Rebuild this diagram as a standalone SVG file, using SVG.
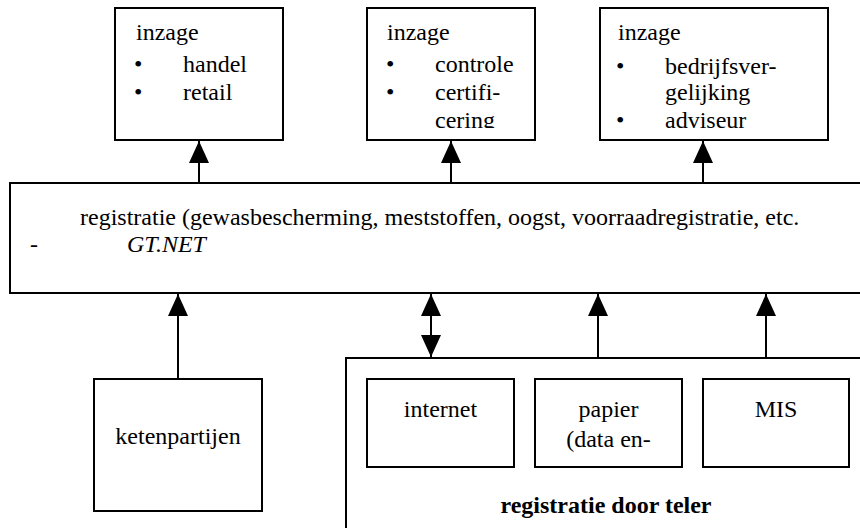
<svg xmlns="http://www.w3.org/2000/svg" width="860" height="528" viewBox="0 0 860 528">
<style>
text{font-family:"Liberation Serif","Times New Roman",serif;font-size:24px;fill:#000}
.box{fill:#fff;stroke:#000;stroke-width:2}
.ln{stroke:#000;stroke-width:2;fill:none}
.it{font-style:italic}
.b{font-weight:bold}
.c{text-anchor:middle}
</style>
<defs>
<marker id="up" markerUnits="userSpaceOnUse" markerWidth="20" markerHeight="22" viewBox="0 0 20 22" refX="10" refY="0" orient="0">
<path d="M10,0 L20,22 L0,22 Z" fill="#000"/>
</marker>
<marker id="dn" markerUnits="userSpaceOnUse" markerWidth="20" markerHeight="22" viewBox="0 0 20 22" refX="10" refY="22" orient="0">
<path d="M0,0 L20,0 L10,22 Z" fill="#000"/>
</marker>
<clipPath id="cb2"><rect x="367" y="8" width="168" height="120"/></clipPath>
</defs>
<g id="box-handel">
<rect class="box" x="115" y="8" width="168" height="132"/>
<text x="136" y="40">inzage</text>
<text x="134" y="72">•</text><text x="183" y="72">handel</text>
<text x="134" y="100">•</text><text x="183" y="100">retail</text>
</g>
<g id="box-controle">
<rect class="box" x="367" y="8" width="168" height="132"/>
<g clip-path="url(#cb2)">
<text x="387" y="40">inzage</text>
<text x="386" y="72">•</text><text x="435" y="72">controle</text>
<text x="386" y="100">•</text><text x="435" y="100">certifi-</text>
<text x="435" y="128">cering</text>
</g>
</g>
<g id="box-adviseur">
<rect class="box" x="600" y="8" width="228" height="132"/>
<text x="618" y="40">inzage</text>
<text x="616" y="74">•</text><text x="665" y="74">bedrijfsver-</text>
<text x="665" y="100">gelijking</text>
<text x="616" y="128">•</text><text x="665" y="128">adviseur</text>
</g>
<g id="registratie">
<rect class="box" x="10" y="183" width="855" height="110"/>
<text x="80" y="225">registratie (gewasbescherming, meststoffen, oogst, voorraadregistratie, etc.</text>
<text x="30" y="252">-</text>
<text class="it" x="127" y="252">GT.NET</text>
</g>
<g id="ketenpartijen">
<rect class="box" x="94" y="379" width="168" height="132"/>
<text class="c" x="178" y="444">ketenpartijen</text>
</g>
<g id="teler">
<rect class="box" x="346" y="358" width="520" height="180"/>
<text class="b c" x="606" y="513">registratie door teler</text>
</g>
<g id="internet">
<rect class="box" x="367" y="379" width="147" height="88"/>
<text class="c" x="440.5" y="417">internet</text>
</g>
<g id="papier">
<rect class="box" x="535" y="379" width="147" height="88"/>
<text class="c" x="608.5" y="417">papier</text>
<text class="c" x="608.5" y="447">(data en-</text>
</g>
<g id="mis">
<rect class="box" x="703" y="379" width="146" height="88"/>
<text class="c" x="776" y="417">MIS</text>
</g>
<g id="connectors">
<line class="ln" x1="199" y1="183" x2="199" y2="141" marker-end="url(#up)"/>
<line class="ln" x1="451" y1="183" x2="451" y2="141" marker-end="url(#up)"/>
<line class="ln" x1="703" y1="183" x2="703" y2="141" marker-end="url(#up)"/>
<line class="ln" x1="178" y1="379" x2="178" y2="294" marker-end="url(#up)"/>
<line class="ln" x1="598" y1="358" x2="598" y2="294" marker-end="url(#up)"/>
<line class="ln" x1="766" y1="358" x2="766" y2="294" marker-end="url(#up)"/>
<line class="ln" x1="431" y1="294" x2="431" y2="357" marker-start="url(#up)" marker-end="url(#dn)"/>
</g>
</svg>
